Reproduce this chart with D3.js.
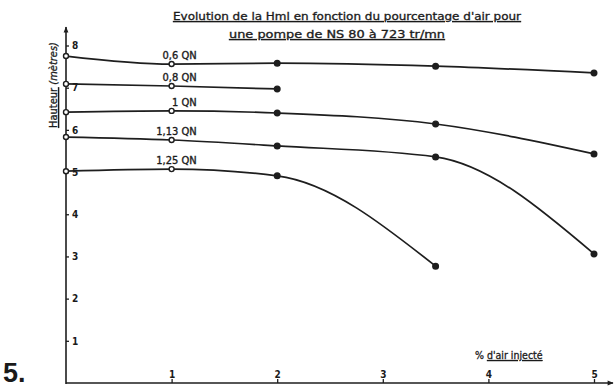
<!DOCTYPE html>
<html>
<head>
<meta charset="utf-8">
<script src="https://cdn.jsdelivr.net/npm/d3@7"></script>
<style>
  html, body { margin: 0; padding: 0; background: #fff; }
  svg { display: block; }
  text { fill: #1a1a1a; }
</style>
</head>
<body>
<svg id="chart" width="615" height="387"></svg>
<script>
// % of injected air (x) and pump head in metres (y) for each flow rate
const airPercent = [0, 1, 2, 3.5, 5];
const seriesNames = ["0,6 QN", "0,8 QN", "1 QN", "1,13 QN", "1,25 QN"];
const head06 = [7.75, 7.56, 7.58, 7.51, 7.35];
const head08 = [7.09, 7.04, 6.97];
const head10 = [6.42, 6.45, 6.40, 6.14, 5.43];
const head113 = [5.83, 5.76, 5.62, 5.36, 3.06];
const head125 = [5.02, 5.07, 4.91, 2.77];
const xTicks = [1, 2, 3, 4, 5];
const yTicks = [1, 2, 3, 4, 5, 6, 7, 8];

const seriesValues = [head06, head08, head10, head113, head125];

const svg = d3.select("#chart");
const ink = "#1e1e1e";
const letterFont = "'DejaVu Sans Condensed', 'DejaVu Sans', sans-serif";

const x = d3.scaleLinear().domain([0, 5]).range([66, 594]);
const y = d3.scaleLinear().domain([0, 8]).range([383, 45.5]);

// arrow heads for the axes
const defs = svg.append("defs");
defs.append("marker")
  .attr("id", "arrow")
  .attr("viewBox", "0 0 10 10")
  .attr("refX", 9).attr("refY", 5)
  .attr("markerWidth", 7).attr("markerHeight", 6)
  .attr("markerUnits", "userSpaceOnUse")
  .attr("orient", "auto")
  .append("path")
  .attr("d", "M0,1 L10,5 L0,9 Z")
  .attr("fill", ink);

// axis lines
svg.append("line")
  .attr("x1", x(0)).attr("y1", y(0))
  .attr("x2", 613).attr("y2", y(0))
  .attr("stroke", ink).attr("stroke-width", 1.6)
  .attr("marker-end", "url(#arrow)");
svg.append("line")
  .attr("x1", x(0)).attr("y1", y(0) + 1)
  .attr("x2", x(0)).attr("y2", 27)
  .attr("stroke", ink).attr("stroke-width", 1.6)
  .attr("marker-end", "url(#arrow)");

// x axis: ticks and labels sit above the baseline
const xAxis = svg.append("g")
  .attr("transform", `translate(0,${y(0)})`)
  .call(d3.axisTop(x).tickValues(xTicks).tickSize(4).tickPadding(1).tickFormat(d3.format("d")));
xAxis.select(".domain").remove();
xAxis.selectAll(".tick line").attr("stroke", ink).attr("stroke-width", 1.3);
xAxis.selectAll(".tick text")
  .attr("font-family", letterFont)
  .attr("font-size", 10).attr("font-weight", "bold").attr("fill", ink);

// y axis: ticks and labels to the right of the axis
const yAxis = svg.append("g")
  .attr("transform", `translate(${x(0)},0)`)
  .call(d3.axisRight(y).tickValues(yTicks).tickSize(3).tickPadding(3).tickFormat(d3.format("d")));
yAxis.select(".domain").remove();
yAxis.selectAll(".tick line").attr("stroke", ink).attr("stroke-width", 1.3);
yAxis.selectAll(".tick text")
  .attr("font-family", letterFont)
  .attr("font-size", 10).attr("font-weight", "bold").attr("fill", ink);

// curves
const line = d3.line()
  .x((d, i) => x(airPercent[i]))
  .y(d => y(d))
  .curve(d3.curveMonotoneX);

const groups = svg.append("g").selectAll("g")
  .data(seriesValues)
  .join("g");

groups.append("path")
  .attr("d", d => line(d))
  .attr("fill", "none")
  .attr("stroke", ink)
  .attr("stroke-width", 1.7);

groups.selectAll("circle")
  .data(d => d.map((v, i) => ({ v, i })))
  .join("circle")
  .attr("cx", d => x(airPercent[d.i]))
  .attr("cy", d => y(d.v))
  .attr("r", d => d.i < 2 ? 2.5 : 2.8)
  .attr("fill", d => d.i < 2 ? "#fff" : ink)
  .attr("stroke", ink)
  .attr("stroke-width", 1.4);

// flow-rate labels above the point at 1 %
groups.append("text")
  .attr("x", x(1) + 25)
  .attr("y", d => y(d[1]) - 5)
  .attr("text-anchor", "end")
  .attr("font-family", letterFont)
  .attr("font-size", 11)
  .attr("stroke", ink).attr("stroke-width", 0.35)
  .attr("fill", ink)
  .text((d, i) => seriesNames[i]);

// title
svg.append("text")
  .attr("x", 173).attr("y", 20)
  .attr("font-family", letterFont).attr("font-size", 11)
  .attr("stroke", ink).attr("stroke-width", 0.3)
  .attr("textLength", 348).attr("lengthAdjust", "spacingAndGlyphs")
  .attr("text-decoration", "underline")
  .text("Evolution de la Hml en fonction du pourcentage d'air pour");
svg.append("text")
  .attr("x", 229).attr("y", 38)
  .attr("font-family", letterFont).attr("font-size", 11)
  .attr("stroke", ink).attr("stroke-width", 0.3)
  .attr("textLength", 216).attr("lengthAdjust", "spacingAndGlyphs")
  .attr("text-decoration", "underline")
  .text("une pompe de NS 80 à 723 tr/mn");

// y axis title
const yTitle = svg.append("text")
  .attr("transform", "translate(57,85) rotate(-90)")
  .attr("text-anchor", "middle")
  .attr("font-family", letterFont).attr("font-size", 11)
  .attr("stroke", ink).attr("stroke-width", 0.3);
yTitle.append("tspan").attr("text-decoration", "underline").text("Hauteur");
yTitle.append("tspan").attr("font-style", "italic").text(" (mètres)");

// x axis title
const xTitle = svg.append("text")
  .attr("x", 475).attr("y", 359)
  .attr("font-family", letterFont).attr("font-size", 10.5)
  .attr("stroke", ink).attr("stroke-width", 0.3);
xTitle.append("tspan").text("% ");
xTitle.append("tspan").attr("text-decoration", "underline").text("d'air injecté");

// figure number
svg.append("text")
  .attr("x", 3).attr("y", 382)
  .attr("font-family", "'Liberation Sans', Arial, sans-serif")
  .attr("font-size", 27).attr("font-weight", "bold")
  .attr("fill", "#111")
  .text("5.");
</script>
</body>
</html>
